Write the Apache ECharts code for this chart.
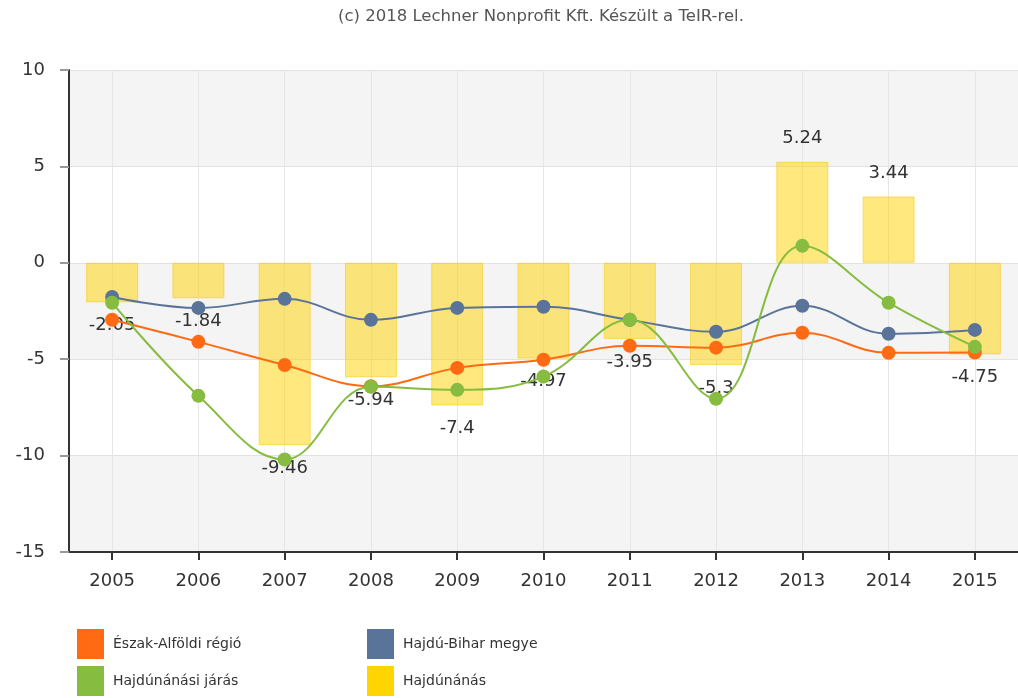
<!DOCTYPE html>
<html>
<head>
<meta charset="utf-8">
<script src="https://cdn.jsdelivr.net/npm/echarts@6/dist/echarts.min.js"></script>
<style>html,body{margin:0;padding:0;background:#fff}#c{width:1018px;height:698px}</style>
</head>
<body>
<div id="c"></div>
<script>
const titleText = '(c) 2018 Lechner Nonprofit Kft. Készült a TeIR-rel.';
const years = ['2005','2006','2007','2008','2009','2010','2011','2012','2013','2014','2015'];
const seriesNames = ['Észak-Alföldi régió','Hajdú-Bihar megye','Hajdúnánási járás','Hajdúnánás'];
const eszakAlfoldi = [-2.95, -4.1, -5.3, -6.4, -5.45, -5.03, -4.3, -4.4, -3.63, -4.67, -4.65];
const hajduBihar = [-1.77, -2.34, -1.87, -2.96, -2.34, -2.28, -2.96, -3.58, -2.23, -3.68, -3.48];
const hajdunanasiJaras = [-2.07, -6.9, -10.2, -6.43, -6.59, -5.9, -2.96, -7.05, 0.88, -2.07, -4.36];
const hajdunanas = [-2.05, -1.84, -9.46, -5.94, -7.4, -4.97, -3.95, -5.3, 5.24, 3.44, -4.75];
const yMin = -15, yMax = 10, yInterval = 5;

const colors = {orange:'#ff6a13', blue:'#5a7499', green:'#86bd40', yellow:'#ffd400'};
const font = 'DejaVu Sans';

const chart = echarts.init(document.getElementById('c'), null, {renderer:'canvas'});

const lineSeries = (name, data, color, z) => ({
  name, type:'line', data, smooth:0.4, z,
  symbol:'circle', symbolSize:14,
  lineStyle:{color, width:2},
  itemStyle:{color},
  emphasis:{disabled:true}
});

const legendSlots = [
  {name:seriesNames[0], color:colors.orange, left:77, top:629},
  {name:seriesNames[1], color:colors.blue, left:367, top:629},
  {name:seriesNames[2], color:colors.green, left:77, top:666},
  {name:seriesNames[3], color:colors.yellow, left:367, top:666}
];

chart.setOption({
  animation:false,
  title:{text:titleText, left:333, top:3,
    textStyle:{fontFamily:font, fontSize:16.5, fontWeight:'normal', color:'#555'}},
  color:[colors.orange, colors.blue, colors.green, colors.yellow],
  legend: legendSlots.map(s => ({
    data:[{name:s.name, itemStyle:{color:s.color, borderWidth:0, opacity:1}}],
    left:s.left, top:s.top, padding:0,
    icon:'rect', itemWidth:27, itemHeight:30,
    textStyle:{fontFamily:font, fontSize:14, color:'#333', padding:[0,0,0,4]},
    selectedMode:false
  })),
  grid:{left:69, right:-5, top:70, bottom:146, containLabel:false},
  xAxis:{type:'category', data:years, boundaryGap:true,
    axisLine:{onZero:false, lineStyle:{color:'#333', width:2}},
    axisTick:{show:true, alignWithLabel:true, length:8, lineStyle:{color:'#333', width:2}},
    axisLabel:{fontFamily:font, fontSize:18, color:'#333', margin:20},
    splitLine:{show:true, alignWithLabel:true, lineStyle:{color:'#e6e6e6', width:1}}
  },
  yAxis:{type:'value', min:yMin, max:yMax, interval:yInterval,
    axisLine:{show:true, lineStyle:{color:'#333', width:2}},
    axisTick:{show:true, length:9, lineStyle:{color:'#999', width:2}},
    axisLabel:{fontFamily:font, fontSize:18, color:'#333', margin:24},
    splitLine:{show:true, lineStyle:{color:'#e2e2e2', width:1}},
    splitArea:{show:true, areaStyle:{color:['#f4f4f4','#ffffff']}}
  },
  series:[
    {name:seriesNames[3], type:'bar', barWidth:52, z:1,
     data:hajdunanas.map(v => ({value:v, label:{position: v < 0 ? 'bottom' : 'top'}})),
     itemStyle:{color:'rgba(255,212,0,0.5)', borderColor:'rgba(245,200,0,0.55)', borderWidth:1},
     label:{show:true, distance:14, fontFamily:font, fontSize:18, color:'#333'},
     emphasis:{disabled:true}},
    lineSeries(seriesNames[1], hajduBihar, colors.blue, 2),
    lineSeries(seriesNames[0], eszakAlfoldi, colors.orange, 3),
    lineSeries(seriesNames[2], hajdunanasiJaras, colors.green, 4)
  ]
});
</script>
</body>
</html>
